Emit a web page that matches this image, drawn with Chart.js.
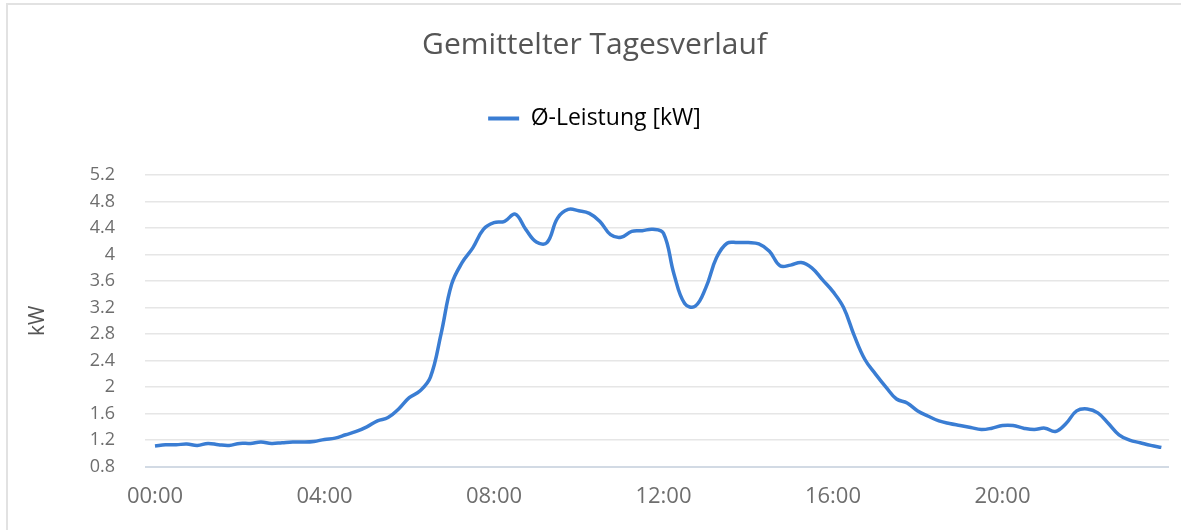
<!DOCTYPE html>
<html>
<head>
<meta charset="utf-8">
<script src="https://cdn.jsdelivr.net/npm/chart.js@4/dist/chart.umd.min.js"></script>
<style>
	html, body { margin: 0; padding: 0; background: #fff; }
	#wrap { position: relative; width: 1181px; height: 530px; overflow: hidden; }
	#frame { position: absolute; left: 6px; top: 3px; width: 1200px; height: 600px; border: 2px solid #e2e2e2; box-sizing: border-box; }
	#chart { position: absolute; left: 0; top: 0; }
</style>
</head>
<body>
<div id="wrap">
	<div id="frame"></div>
	<canvas id="chart" width="1181" height="530"></canvas>
</div>
<script>
var chartTitle = 'Gemittelter Tagesverlauf';
var seriesName = 'Ø-Leistung [kW]';
var yAxisTitle = 'kW';

// 15-Minuten-Raster
var times = [
	'00:00','00:15','00:30','00:45','01:00','01:15','01:30','01:45',
	'02:00','02:15','02:30','02:45','03:00','03:15','03:30','03:45',
	'04:00','04:15','04:30','04:45','05:00','05:15','05:30','05:45',
	'06:00','06:15','06:30','06:45','07:00','07:15','07:30','07:45',
	'08:00','08:15','08:30','08:45','09:00','09:15','09:30','09:45',
	'10:00','10:15','10:30','10:45','11:00','11:15','11:30','11:45',
	'12:00','12:15','12:30','12:45','13:00','13:15','13:30','13:45',
	'14:00','14:15','14:30','14:45','15:00','15:15','15:30','15:45',
	'16:00','16:15','16:30','16:45','17:00','17:15','17:30','17:45',
	'18:00','18:15','18:30','18:45','19:00','19:15','19:30','19:45',
	'20:00','20:15','20:30','20:45','21:00','21:15','21:30','21:45',
	'22:00','22:15','22:30','22:45','23:00','23:15','23:30','23:45'
];

var leistung = [
	1.11, 1.13, 1.13, 1.14, 1.12, 1.15, 1.13, 1.12,
	1.15, 1.15, 1.17, 1.15, 1.16, 1.17, 1.17, 1.18,
	1.21, 1.23, 1.28, 1.33, 1.40, 1.49, 1.54, 1.67,
	1.84, 1.94, 2.15, 2.80, 3.55, 3.88, 4.10, 4.38,
	4.48, 4.50, 4.61, 4.38, 4.19, 4.18, 4.55, 4.68,
	4.66, 4.62, 4.50, 4.30, 4.26, 4.35, 4.36, 4.38,
	4.32, 3.70, 3.26, 3.22, 3.50, 3.95, 4.17, 4.18,
	4.18, 4.16, 4.05, 3.83, 3.84, 3.88, 3.80, 3.62,
	3.44, 3.20, 2.78, 2.42, 2.20, 2.00, 1.82, 1.76,
	1.64, 1.56, 1.49, 1.45, 1.42, 1.39, 1.36, 1.38,
	1.42, 1.42, 1.38, 1.36, 1.38, 1.33, 1.45, 1.64,
	1.67, 1.61, 1.45, 1.28, 1.20, 1.16, 1.12, 1.09
];

var xTickLabels = ['00:00', '04:00', '08:00', '12:00', '16:00', '20:00'];
var yTickValues = [0.8, 1.2, 1.6, 2, 2.4, 2.8, 3.2, 3.6, 4, 4.4, 4.8, 5.2];
var yTickLabels = ['0.8', '1.2', '1.6', '2', '2.4', '2.8', '3.2', '3.6', '4', '4.4', '4.8', '5.2'];

function toHours(t) {
	var p = t.split(':');
	return parseInt(p[0], 10) + parseInt(p[1], 10) / 60;
}

var points = times.map(function (t, i) {
	return { x: toHours(t), y: leistung[i] };
});

var FONT = "'Open Sans', 'Lato', sans-serif";
var lineColor = '#3a7dd3';

// extra space between legend and plot area
var legendGap = {
	id: 'legendGap',
	beforeInit: function (chart) {
		var fitOrig = chart.legend.fit;
		chart.legend.fit = function () {
			fitOrig.call(this);
			this.height += 35;
		};
	}
};

new Chart(document.getElementById('chart'), {
	type: 'line',
	data: {
		datasets: [{
			label: seriesName,
			data: points,
			borderColor: lineColor,
			backgroundColor: lineColor,
			borderWidth: 3.5,
			pointRadius: 0,
			tension: 0.4,
			fill: false
		}]
	},
	plugins: [legendGap],
	options: {
		responsive: false,
		animation: false,
		layout: { padding: { left: 20, right: 12, top: 0, bottom: 3 } },
		plugins: {
			title: {
				display: true,
				text: chartTitle,
				color: '#555',
				font: { family: FONT, size: 30, weight: 'normal' },
				padding: { top: 27, bottom: 28 }
			},
			legend: {
				display: true,
				position: 'top',
				labels: {
					color: '#555',
					font: { family: FONT, size: 23 },
					boxWidth: 31,
					boxHeight: 4,
					padding: 16,
					generateLabels: function (chart) {
						return [{
							text: seriesName,
							fillStyle: lineColor,
							strokeStyle: lineColor,
							lineWidth: 0,
							datasetIndex: 0
						}];
					}
				}
			},
			tooltip: { enabled: false }
		},
		scales: {
			x: {
				type: 'linear',
				min: -0.236,
				max: 23.93,
				afterBuildTicks: function (scale) {
					scale.ticks = xTickLabels.map(function (l) { return { value: toHours(l) }; });
				},
				ticks: {
					color: '#6e6e6e',
					font: { family: FONT, size: 22 },
					padding: 17,
					maxRotation: 0,
					autoSkip: false,
					callback: function (value, index) { return xTickLabels[index]; }
				},
				grid: { display: false, drawTicks: false },
				border: { display: false }
			},
			y: {
				min: 0.8,
				max: 5.2,
				afterBuildTicks: function (scale) {
					scale.ticks = yTickValues.map(function (v) { return { value: v }; });
				},
				afterFit: function (scale) {
					scale.width = 125;
				},
				title: {
					display: true,
					text: yAxisTitle,
					color: '#555',
					font: { family: FONT, size: 21 },
					padding: { top: 5, bottom: 0 }
				},
				ticks: {
					color: '#6e6e6e',
					font: { family: FONT, size: 18 },
					padding: 30,
					autoSkip: false,
					callback: function (value, index) { return yTickLabels[index]; }
				},
				grid: {
					drawTicks: false,
					color: function (ctx) { return ctx.index === 0 ? '#d2dae4' : '#e6e6e6'; },
					lineWidth: function (ctx) { return ctx.index === 0 ? 2 : 1.5; }
				},
				border: { display: false }
			}
		}
	}
});
</script>
</body>
</html>
